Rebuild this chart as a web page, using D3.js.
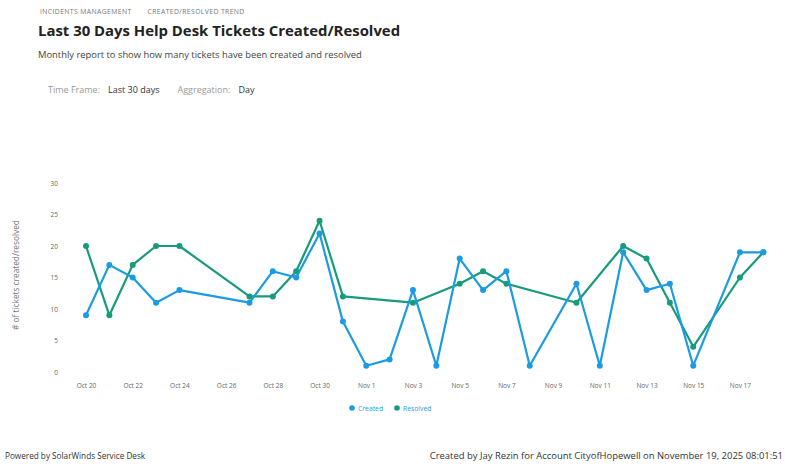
<!DOCTYPE html>
<html><head><meta charset="utf-8">
<script src="https://cdn.jsdelivr.net/npm/d3@7"></script>
<style>
body{margin:0;background:#fff;}
svg{display:block;font-family:"Open Sans",sans-serif;}
</style></head><body>
<svg id="c" width="785" height="476"></svg>
<script>
// 30 days: Oct 20 .. Nov 18, 2025
const days = d3.range(30).map(i => new Date(2025, 9, 20 + i));
// null = no point that day
const created  = [9,17,15,11,13,null,null,11,16,15,22,8,1,2,13,1,18,13,16,1,null,14,1,19,13,14,1,null,19,19];
const resolved = [20,9,17,20,20,null,null,12,12,16,24,12,null,null,11,null,14,16,14,null,null,11,null,20,18,11,4,null,15,19];
const yTicks = [0,5,10,15,20,25,30];
const seriesNames = ["Created","Resolved"];
const colors = ["#1b9be2","#169b7c"];

const svg = d3.select("#c");
const fmt = d3.timeFormat("%b %-d");

const x = d3.scalePoint().domain(days.map(d=>+d)).range([86, 763.3]);
const y = d3.scaleLinear().domain([0,30]).range([372,183]);

// header
const h = svg.append("text").attr("x",40).attr("y",14).attr("font-size",6.8).attr("fill","#777")
  .attr("letter-spacing","0.4");
h.append("tspan").text("INCIDENTS MANAGEMENT");
h.append("tspan").attr("dx",16).text("CREATED/RESOLVED TREND");
svg.append("text").attr("x",38).attr("y",36).attr("font-size",14.9).attr("font-weight","bold")
  .attr("fill","#222").text("Last 30 Days Help Desk Tickets Created/Resolved");
svg.append("text").attr("x",38).attr("y",58).attr("font-size",9.4).attr("fill","#444")
  .text("Monthly report to show how many tickets have been created and resolved");
const f = svg.append("text").attr("x",48).attr("y",93).attr("font-size",9);
f.append("tspan").attr("fill","#999").text("Time Frame:");
f.append("tspan").attr("fill","#333").attr("dx",8).text("Last 30 days");
f.append("tspan").attr("fill","#999").attr("dx",18).text("Aggregation:");
f.append("tspan").attr("fill","#333").attr("dx",8).text("Day");

// y axis
const ya = svg.append("g").attr("transform","translate(58,0)")
  .call(d3.axisLeft(y).tickValues(yTicks).tickSize(0).tickPadding(0));
ya.select(".domain").remove();
ya.selectAll("text").attr("font-size",6.5).attr("fill","#666").attr("font-family","'Open Sans',sans-serif");
svg.append("text").attr("transform","translate(19,275) rotate(-90)").attr("text-anchor","middle")
  .attr("font-size",8.3).attr("fill","#777").text("# of tickets created/resolved");

// x axis
const xa = svg.append("g").attr("transform","translate(0,378)")
  .call(d3.axisBottom(x).tickValues(days.filter((d,i)=>i%2===0).map(d=>+d))
    .tickFormat(d=>fmt(new Date(d))).tickSize(0).tickPadding(5));
xa.select(".domain").remove();
xa.selectAll("text").attr("font-size",6.5).attr("fill","#666").attr("font-family","'Open Sans',sans-serif");

// series
[resolved, created].forEach((vals, k) => {
  const si = k === 0 ? 1 : 0;
  const pts = days.map((d,i)=>({d, v: vals[i]})).filter(p => p.v !== null);
  const line = d3.line().x(p=>x(+p.d)).y(p=>y(p.v));
  svg.append("path").datum(pts).attr("d",line).attr("fill","none")
    .attr("stroke",colors[si]).attr("stroke-width",2.2).attr("stroke-linejoin","round");
  svg.append("g").selectAll("circle").data(pts).join("circle")
    .attr("cx",p=>x(+p.d)).attr("cy",p=>y(p.v)).attr("r",3).attr("fill",colors[si]);
});

// legend
const lg = svg.append("g").attr("transform","translate(352,408)");
seriesNames.forEach((n,i)=>{
  const g = lg.append("g").attr("transform",`translate(${i*45},0)`);
  g.append("circle").attr("r",2.8).attr("fill",colors[i]);
  g.append("text").attr("x",6).attr("y",2.5).attr("font-size",6.8).attr("fill",colors[0]).text(n);
});

// footer
svg.append("text").attr("x",5).attr("y",459).attr("font-size",8.2).attr("fill","#333")
  .text("Powered by SolarWinds Service Desk");
svg.append("text").attr("x",783).attr("y",459).attr("text-anchor","end").attr("font-size",9.45).attr("fill","#333")
  .text("Created by Jay Rezin for Account CityofHopewell on November 19, 2025 08:01:51");
</script>
</body></html>
